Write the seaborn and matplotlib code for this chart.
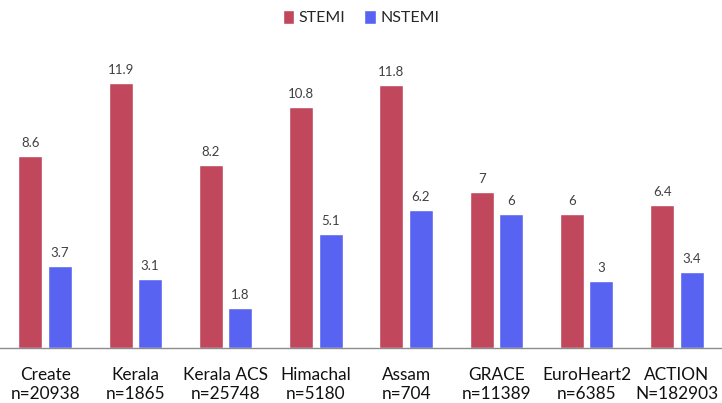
import matplotlib
matplotlib.use("Agg")
import matplotlib.pyplot as plt
import seaborn as sns
import pandas as pd

studies = ["Create\nn=20938", "Kerala\nn=1865", "Kerala ACS\nn=25748", "Himachal\nn=5180",
           "Assam\nn=704", "GRACE\nn=11389", "EuroHeart2\nn=6385", "ACTION\nN=182903"]
stemi = [8.6, 11.9, 8.2, 10.8, 11.8, 7, 6, 6.4]
nstemi = [3.7, 3.1, 1.8, 5.1, 6.2, 6, 3, 3.4]
series = ["STEMI", "NSTEMI"]
colors = ["#C0475C", "#5963F2"]

df = pd.DataFrame({
    "study": studies * 2,
    "value": stemi + nstemi,
    "type": ["STEMI"] * len(stemi) + ["NSTEMI"] * len(nstemi),
})

sns.set_style("white")
plt.rcParams["font.family"] = ["Lato", "DejaVu Sans"]

fig = plt.figure(figsize=(7.22, 4.03), dpi=100)
ax = fig.add_axes([0.0, 55 / 403, 1.0, (348 - 45) / 403])

sns.barplot(data=df, x="study", y="value", hue="type", hue_order=series,
            palette=colors, saturation=1, width=0.655, gap=0.19, ax=ax, legend=True)

for cont in ax.containers:
    ax.bar_label(cont, labels=[f"{v:g}" for v in cont.datavalues],
                 padding=5, fontsize=9.5, color="#404040")

ax.set_ylim(0, 13.6)
ax.set_xlim(-0.5, len(studies) - 0.5)
ax.set_xlabel("")
ax.set_ylabel("")
ax.set_yticks([])
ax.tick_params(axis="x", length=0, labelsize=12.4, pad=14, labelcolor="#111111")
for s in ["top", "left", "right"]:
    ax.spines[s].set_visible(False)
ax.spines["bottom"].set_color("#8c8c8c")
ax.spines["bottom"].set_linewidth(1.0)

handles, labels = ax.get_legend_handles_labels()
ax.get_legend().remove()
fig.legend(handles, labels, loc="upper center", bbox_to_anchor=(0.5, 1.01), ncol=2,
           frameon=False, fontsize=11.5, handlelength=0.7, handleheight=0.9,
           handletextpad=0.3, columnspacing=1.2)

fig.savefig("out.png", dpi=100)
